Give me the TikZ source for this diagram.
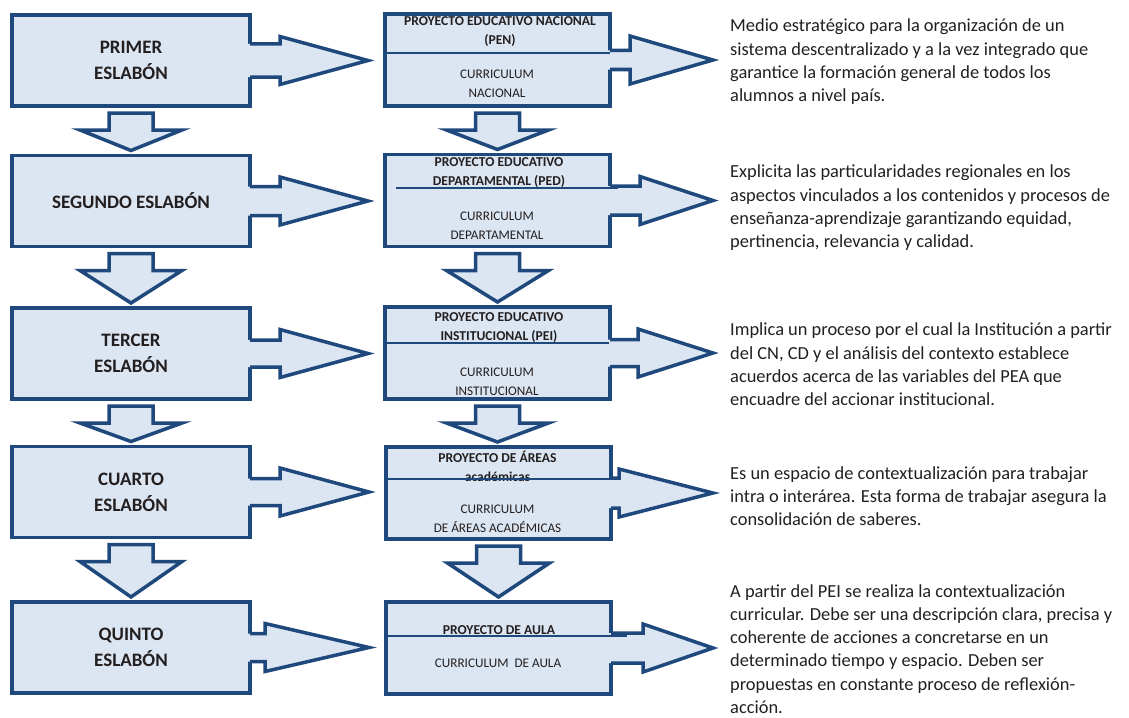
\documentclass[tikz,border=0pt]{standalone}
\usepackage{fontspec}
\setmainfont{Carlito}
\usepackage{tikz}
\usetikzlibrary{calc,positioning}
\definecolor{azuloscuro}{RGB}{31,73,125}
\definecolor{azulclaro}{RGB}{220,230,242}
\definecolor{texto}{RGB}{35,31,32}

% flecha de bloque hacia abajo, de una caja a la siguiente
\newcommand{\flechabajo}[2]{%
  \path[bloque] let \p1=(#1.south), \p2=(#2.north) in
    (\x1-22pt,\y1-7pt) -- (\x1+22pt,\y1-7pt) -- (\x1+22pt,\y1-24pt)
    -- (\x1+51pt,\y1-24pt) -- (\x1,\y2+5pt) -- (\x1-51pt,\y1-24pt)
    -- (\x1-22pt,\y1-24pt) -- cycle;}

% flecha de bloque hacia la derecha: origen, destino, medio tallo, largo tallo
\newcommand{\flechader}[4]{%
  \fill[azulclaro] let \p1=(#1.east), \p2=(#2.west) in
    (\x1-2pt,\y1+#3pt) -- (\x1+#4pt,\y1+#3pt) -- (\x1+#4pt,\y1+24pt)
    -- (\x2-17pt,\y1) -- (\x1+#4pt,\y1-24pt) -- (\x1+#4pt,\y1-#3pt)
    -- (\x1-2pt,\y1-#3pt) -- cycle;
  \draw[borde] let \p1=(#1.east), \p2=(#2.west) in
    (\x1,\y1+#3pt) -- (\x1+#4pt,\y1+#3pt) -- (\x1+#4pt,\y1+24pt)
    -- (\x2-17pt,\y1) -- (\x1+#4pt,\y1-24pt) -- (\x1+#4pt,\y1-#3pt)
    -- (\x1,\y1-#3pt);}

\begin{document}
\begin{tikzpicture}[x=1pt, y=-1pt,
        caja/.style={rectangle, draw=azuloscuro, fill=azulclaro, line width=3.5pt,
                     minimum width=238pt, minimum height=91pt, outer sep=0pt,
                     align=center, text=texto, font=\bfseries\fontsize{19}{26}\selectfont},
        proyecto/.style={rectangle, draw=azuloscuro, fill=azulclaro, line width=3.5pt,
                     minimum width=225pt, minimum height=92pt, outer sep=0pt},
        titulo/.style={align=center, inner sep=0pt, text=texto,
                     font=\bfseries\fontsize{13.6}{19}\selectfont},
        curriculo/.style={align=center, inner sep=0pt, text=texto,
                     font=\fontsize{13.2}{19}\selectfont},
        nota/.style={anchor=west, align=left, inner sep=0pt, text=texto,
                     font=\fontsize{18.4}{23.3}\selectfont},
        bloque/.style={fill=azulclaro, draw=azuloscuro, line width=3.5pt, line join=miter},
        borde/.style={draw=azuloscuro, line width=3.5pt, line join=miter},
        divisor/.style={draw=azuloscuro, line width=1.8pt}
    ]
    \useasboundingbox (0,0) rectangle (1129,717);

    % eslabones
    \node[caja] (primer) at (131,60.5) {PRIMER\\ESLABÓN};
    \node[caja] (segundo) at (131,201) {SEGUNDO ESLABÓN};
    \node[caja] (tercer) at (131,353.5) {TERCER\\ESLABÓN};
    \node[caja] (cuarto) at (131,492) {CUARTO\\ESLABÓN};
    \node[caja] (quinto) at (131,647.5) {QUINTO\\ESLABÓN};

    % proyectos
    \node[proyecto] (pen) at (497.5,60) {};
    \node[proyecto] (ped) at (497.5,200.5) {};
    \node[proyecto] (pei) at (497.5,353) {};
    \node[proyecto] (areas) at (498.5,493) {};
    \node[proyecto] (aula) at (498.5,648) {};

    \node[titulo] (penT) at (500,32) {PROYECTO EDUCATIVO NACIONAL\\(PEN)};
    \node[curriculo] (penC) at (497,83.5) {CURRICULUM\\NACIONAL};
    \node[titulo] (pedT) at (499,172.5) {PROYECTO EDUCATIVO\\DEPARTAMENTAL (PED)};
    \node[curriculo] (pedC) at (497,226) {CURRICULUM\\DEPARTAMENTAL};
    \node[titulo] (peiT) at (499,327.5) {PROYECTO EDUCATIVO\\INSTITUCIONAL (PEI)};
    \node[curriculo] (peiC) at (497,381.5) {CURRICULUM\\INSTITUCIONAL};
    \node[titulo] (areasT) at (497.5,466.5) {PROYECTO DE ÁREAS\\académicas};
    \node[curriculo] (areasC) at (497.5,519) {CURRICULUM\\DE ÁREAS ACADÉMICAS};
    \node[titulo] (aulaT) at (499,630) {PROYECTO DE AULA};
    \node[curriculo] (aulaC) at (498,663) {CURRICULUM\ \ DE AULA};

    % descripciones
    \node[nota] (n1) at (730,62) {Medio estratégico para la organización de un\\
      sistema descentralizado y a la vez integrado que\\
      garantice la formación general de todos los\\alumnos a nivel país.};
    \node[nota] (n2) at (730,208) {Explicita las particularidades regionales en los\\
      aspectos vinculados a los contenidos y procesos de\\
      enseñanza-aprendizaje garantizando equidad,\\pertinencia, relevancia y calidad.};
    \node[nota] (n3) at (730,364.5) {Implica un proceso por el cual la Institución a partir\\
      del CN, CD y el análisis del contexto establece\\
      acuerdos acerca de las variables del PEA que\\encuadre del accionar institucional.};
    \node[nota] (n4) at (730,496) {Es un espacio de contextualización para trabajar\\
      intra o interárea. Esta forma de trabajar asegura la\\consolidación de saberes.};
    \node[nota] (n5) at (730,649) {A partir del PEI se realiza la contextualización\\
      curricular. Debe ser una descripción clara, precisa y\\
      coherente de acciones a concretarse en un\\
      determinado tiempo y espacio. Deben ser\\
      propuestas en constante proceso de reflexión-\\acción.};

    % flechas hacia abajo
    \flechabajo{primer}{segundo}
    \flechabajo{segundo}{tercer}
    \flechabajo{tercer}{cuarto}
    \flechabajo{cuarto}{quinto}
    \flechabajo{pen}{ped}
    \flechabajo{ped}{pei}
    \flechabajo{pei}{areas}
    \flechabajo{areas}{aula}

    % flechas hacia la derecha
    \flechader{primer}{pen}{16.5}{30}
    \flechader{segundo}{ped}{14.5}{30}
    \flechader{tercer}{pei}{13.5}{30}
    \flechader{cuarto}{areas}{13.5}{30}
    \flechader{quinto}{aula}{14}{15}
    \flechader{pen}{n1}{9.5}{20}
    \flechader{ped}{n2}{14.5}{30}
    \flechader{pei}{n3}{13.5}{28}
    \flechader{areas}{n4}{15}{8}
    \flechader{aula}{n5}{15}{32}

    % lineas divisorias
    \draw[divisor] (385,53) -- (610,53);
    \draw[divisor] (396,188) -- (618,188);
    \draw[divisor] (385,343) -- (609,343);
    \draw[divisor] (387,479) -- (617,479);
    \draw[divisor] (387,636) -- (627,636);
\end{tikzpicture}
\end{document}
